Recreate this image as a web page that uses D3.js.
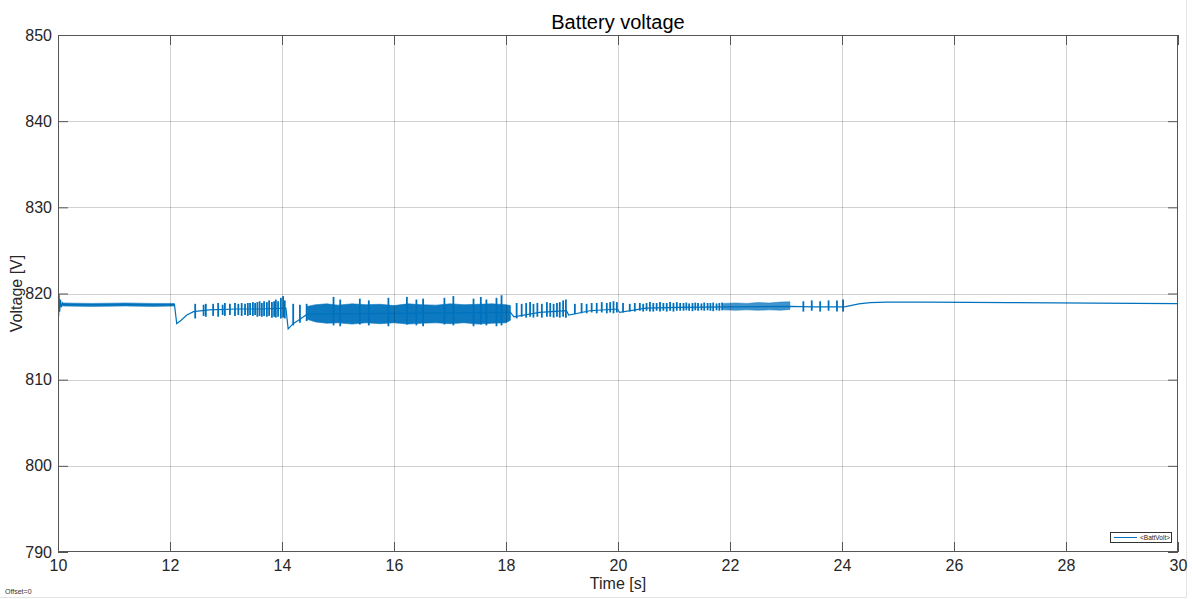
<!DOCTYPE html>
<html>
<head>
<meta charset="utf-8">
<script src="https://cdn.jsdelivr.net/npm/d3@7"></script>
<style>
  body { margin: 0; background: #fff; }
  svg { display: block; font-family: "Liberation Sans", Arial, sans-serif; }
</style>
</head>
<body>
<svg id="chart" width="1192" height="599"></svg>
<script>
var xTicks = [10, 12, 14, 16, 18, 20, 22, 24, 26, 28, 30]
var yTicks = [790, 800, 810, 820, 830, 840, 850]

// slow part of the BattVolt trace
var traceT = [10.0, 10.004, 10.012, 10.02, 10.03, 10.045, 10.06, 10.08, 10.1, 12.08, 12.12, 12.2, 12.3, 12.42, 12.7,
  13.2, 13.6, 14.07, 14.11, 14.2, 14.32, 14.45, 16.0, 18.08, 18.14, 18.6, 19.08, 19.12, 19.5, 19.99,
  20.03, 20.5, 21.1, 22.0, 23.07, 23.5, 24.04, 24.15, 24.3, 24.5, 24.8, 25.5, 27.0, 28.5, 30.0]
var traceV = [814.6, 821.0, 817.4, 819.9, 817.9, 819.3, 818.4, 818.9, 818.7, 818.7, 816.5, 816.9, 817.5, 817.9, 818.1,
  818.2, 818.2, 818.3, 815.9, 816.5, 817.0, 817.6, 817.7, 817.8, 817.3, 817.8, 818.0, 817.5, 818.0, 818.2,
  817.8, 818.3, 818.4, 818.45, 818.5, 818.45, 818.45, 818.6, 818.8, 818.95, 819.0, 819.0, 818.95, 818.88, 818.82]

// dense switching ripple, drawn as min/max band
var bandT  = [10.08, 10.6, 11.2, 11.7, 12.08]
var bandHi = [818.9, 818.85, 818.9, 818.85, 818.85]
var bandLo = [818.55, 818.5, 818.55, 818.5, 818.55]

var heavyT  = [14.45, 14.6, 14.8, 15.0, 15.25, 15.5, 15.75, 16.0, 16.25, 16.5, 16.75, 17.0, 17.25, 17.5, 17.75, 18.0, 18.08]
var heavyHi = [818.5, 818.7, 818.8, 818.65, 818.8, 818.7, 818.75, 818.6, 818.8, 818.7, 818.65, 818.8, 818.7, 818.75, 818.8, 818.7, 818.6]
var heavyLo = [817.0, 816.7, 816.55, 816.6, 816.45, 816.6, 816.5, 816.6, 816.45, 816.55, 816.6, 816.5, 816.6, 816.45, 816.55, 816.6, 816.9]

var lightT  = [21.88, 22.1, 22.3, 22.5, 22.7, 22.9, 23.07]
var lightHi = [818.85, 818.9, 818.85, 818.95, 818.9, 819.0, 819.05]
var lightLo = [818.1, 818.05, 818.1, 818.05, 818.1, 818.05, 818.15]

// single load steps (teeth): time, top, bottom
var teethT = [
  12.45, 12.60, 12.64, 12.77, 12.86, 12.94, 12.98, 13.07, 13.16, 13.22, 13.28, 13.34, 13.39, 13.43, 13.48,
  13.52, 13.56, 13.60, 13.64, 13.68, 13.73, 13.77, 13.82, 13.86, 13.89, 13.93, 13.98, 14.02, 14.05,
  14.2, 14.32, 14.44,
  14.92, 15.04, 15.39, 15.55, 15.9, 16.23, 16.4, 16.52, 16.9, 17.06, 17.42, 17.55, 17.65, 17.83, 17.92,
  18.19, 18.28, 18.36, 18.43, 18.49, 18.56, 18.64, 18.73, 18.79, 18.85, 18.91, 18.96, 19.02, 19.07,
  19.23, 19.35, 19.44, 19.53, 19.62, 19.71, 19.80, 19.86, 19.92, 19.98,
  20.09, 20.21, 20.30, 20.39, 20.45, 20.51, 20.57, 20.63, 20.69, 20.75, 20.81, 20.87, 20.93, 20.99, 21.05, 21.11,
  21.17, 21.22, 21.27, 21.33, 21.38, 21.43, 21.49, 21.54, 21.60, 21.65, 21.70, 21.76, 21.81, 21.86,
  23.31, 23.46, 23.61, 23.76, 23.91, 24.02]
var teethHi = [
  818.8, 818.7, 818.8, 818.8, 818.9, 818.7, 818.9, 818.8, 818.9, 818.8, 818.9, 818.8, 818.9, 818.9, 819.0,
  818.9, 819.0, 819.1, 818.9, 819.1, 819.0, 819.2, 819.0, 819.1, 819.3, 819.1, 819.5, 819.7, 819.2,
  818.8, 818.7, 818.8,
  819.6, 819.3, 819.4, 819.2, 819.5, 819.6, 819.3, 819.4, 819.5, 819.7, 819.4, 819.6, 819.3, 819.5, 819.8,
  818.9, 818.8, 818.9, 819.0, 818.8, 818.9, 818.8, 819.0, 818.9, 818.8, 818.9, 819.0, 819.2, 819.3,
  818.8, 818.9, 818.8, 818.9, 818.9, 819.0, 818.9, 819.0, 819.1, 819.0,
  818.9, 818.8, 818.9, 818.9, 818.8, 818.9, 819.0, 818.9, 818.9, 819.0, 818.9, 818.9, 819.0, 818.9, 819.0, 818.9,
  818.9, 818.95, 818.85, 818.9, 818.95, 818.9, 818.85, 818.95, 818.9, 818.9, 818.95, 818.85, 818.9, 818.95,
  819.1, 819.2, 819.1, 819.2, 819.2, 819.3]
var teethLo = [
  817.1, 817.4, 817.3, 817.4, 817.3, 817.5, 817.4, 817.5, 817.4, 817.5, 817.4, 817.5, 817.4, 817.5, 817.4,
  817.5, 817.3, 817.4, 817.3, 817.4, 817.3, 817.4, 817.2, 817.3, 817.2, 817.3, 817.1, 817.2, 817.1,
  816.3, 816.6, 816.8,
  816.3, 816.2, 816.4, 816.3, 816.2, 816.4, 816.3, 816.2, 816.4, 816.3, 816.2, 816.4, 816.3, 816.2, 816.3,
  817.1, 817.3, 817.2, 817.3, 817.2, 817.3, 817.2, 817.3, 817.3, 817.2, 817.3, 817.2, 817.3, 817.2,
  817.6, 817.7, 817.7, 817.8, 817.7, 817.8, 817.7, 817.8, 817.7, 817.8,
  817.8, 817.9, 817.9, 818.0, 817.9, 818.0, 817.9, 817.9, 818.0, 817.9, 818.0, 817.9, 818.0, 817.9, 818.0, 818.0,
  818.0, 818.05, 818.0, 817.95, 818.05, 818.0, 818.05, 818.0, 818.05, 818.0, 817.95, 818.05, 818.0, 818.05,
  817.9, 818.0, 817.9, 818.0, 817.9, 817.9]

var blue = "#0072bd"
var L = 58, R = 1178, T = 35, B = 552

var svg = d3.select("#chart")
var x = d3.scaleLinear().domain([10, 30]).range([L, R])
var y = d3.scaleLinear().domain([790, 850]).range([B, T])

// faint figure window edge
svg.append("line").attr("x1", 1186.5).attr("x2", 1186.5).attr("y1", 0).attr("y2", 597.5)
  .attr("stroke", "#e4e4e4")
svg.append("line").attr("x1", 0).attr("x2", 1186.5).attr("y1", 597.5).attr("y2", 597.5)
  .attr("stroke", "#e4e4e4")

svg.append("clipPath").attr("id", "clip")
  .append("rect").attr("x", L).attr("y", T).attr("width", R - L).attr("height", B - T)

var plot = svg.append("g").attr("clip-path", "url(#clip)")

var band = d3.area()
  .x(function(d) { return x(d[0]) })
  .y0(function(d) { return y(d[2]) })
  .y1(function(d) { return y(d[1]) })

function drawBand(ts, his, los, op) {
  plot.append("path")
    .attr("d", band(d3.zip(ts, his, los)))
    .attr("fill", blue)
    .attr("fill-opacity", op)
    .attr("stroke", blue)
    .attr("stroke-opacity", op)
    .attr("stroke-width", 0.6)
}
drawBand(bandT, bandHi, bandLo, 0.9)
drawBand(heavyT, heavyHi, heavyLo, 0.95)
drawBand(lightT, lightHi, lightLo, 0.75)

plot.append("path")
  .attr("d", d3.line().x(function(d) { return x(d[0]) }).y(function(d) { return y(d[1]) })(d3.zip(traceT, traceV)))
  .attr("fill", "none")
  .attr("stroke", blue)
  .attr("stroke-width", 1.2)

plot.selectAll("line.tooth")
  .data(d3.zip(teethT, teethHi, teethLo))
  .join("line")
  .attr("class", "tooth")
  .attr("x1", function(d) { return x(d[0]) })
  .attr("x2", function(d) { return x(d[0]) })
  .attr("y1", function(d) { return y(d[1]) })
  .attr("y2", function(d) { return y(d[2]) })
  .attr("stroke", blue)
  .attr("stroke-width", 1.8)

// grid on top, like the scope
var grid = svg.append("g").attr("stroke", "#000").attr("stroke-opacity", 0.18)
grid.selectAll("line.gx").data(xTicks.slice(1, -1)).join("line")
  .attr("x1", function(d) { return Math.round(x(d)) + 0.5 })
  .attr("x2", function(d) { return Math.round(x(d)) + 0.5 })
  .attr("y1", T).attr("y2", B)
grid.selectAll("line.gy").data(yTicks.slice(1, -1)).join("line")
  .attr("y1", function(d) { return Math.round(y(d)) + 0.5 })
  .attr("y2", function(d) { return Math.round(y(d)) + 0.5 })
  .attr("x1", L).attr("x2", R)

// axes with inward ticks
function style(g) {
  g.select(".domain").remove()
  g.selectAll(".tick line").attr("stroke", "#555")
  g.selectAll(".tick text").attr("fill", "#262626").attr("font-size", 16)
}
svg.append("g").attr("transform", "translate(0," + B + ")")
  .call(d3.axisBottom(x).tickValues(xTicks).tickSize(-10).tickPadding(8)).call(style)
svg.append("g").attr("transform", "translate(" + L + ",0)")
  .call(d3.axisLeft(y).tickValues(yTicks).tickSize(-10).tickPadding(6)).call(style)
svg.append("g").attr("transform", "translate(0," + T + ")")
  .call(d3.axisTop(x).tickValues(xTicks).tickSize(-10).tickFormat("")).call(style)
svg.append("g").attr("transform", "translate(" + R + ",0)")
  .call(d3.axisRight(y).tickValues(yTicks).tickSize(-10).tickFormat("")).call(style)

svg.append("rect").attr("x", L + 0.5).attr("y", T + 0.5).attr("width", R - L - 1).attr("height", B - T - 1)
  .attr("fill", "none").attr("stroke", "#555")

// texts
svg.append("text").attr("x", (L + R) / 2).attr("y", 29).attr("text-anchor", "middle")
  .attr("font-size", 20).attr("fill", "#000").text("Battery voltage")
svg.append("text").attr("x", (L + R) / 2).attr("y", 589).attr("text-anchor", "middle")
  .attr("font-size", 16).attr("fill", "#262626").text("Time [s]")
svg.append("text").attr("transform", "translate(22," + (T + B) / 2 + ") rotate(-90)")
  .attr("text-anchor", "middle").attr("font-size", 16).attr("fill", "#262626").text("Voltage [V]")
svg.append("text").attr("x", 5).attr("y", 594).attr("font-size", 7).attr("fill", "#333").text("Offset=0")

// legend
var lg = svg.append("g").attr("transform", "translate(1110,532)")
lg.append("rect").attr("x", 0.5).attr("y", 0.5).attr("width", 61).attr("height", 10)
  .attr("fill", "#fff").attr("stroke", "#333")
lg.append("line").attr("x1", 4).attr("x2", 27).attr("y1", 5.5).attr("y2", 5.5)
  .attr("stroke", blue).attr("stroke-width", 1)
lg.append("text").attr("x", 30).attr("y", 8).attr("font-size", 6.5).attr("fill", "#222").text("<BattVolt>")
</script>
</body>
</html>
